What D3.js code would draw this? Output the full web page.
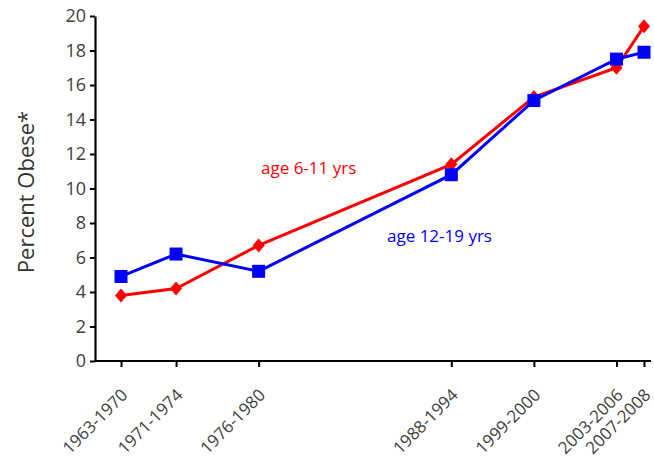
<!DOCTYPE html>
<html>
<head>
<meta charset="utf-8">
<script src="https://cdn.jsdelivr.net/npm/d3@7"></script>
<style>
  body { margin: 0; background: #fff; }
  text { font-family: "Open Sans", "Liberation Sans", sans-serif; }
</style>
</head>
<body>
<div id="chart"></div>
<script>
// Survey periods, and the end year used to place them on the x axis
const periods = ["1963-1970", "1971-1974", "1976-1980", "1988-1994", "1999-2000", "2003-2006", "2007-2008"];
const endYears = [1970, 1974, 1980, 1994, 2000, 2006, 2008];
const age6to11 = [3.8, 4.2, 6.7, 11.4, 15.3, 17.0, 19.4];
const age12to19 = [4.9, 6.2, 5.2, 10.8, 15.1, 17.5, 17.9];
const yTicks = [0, 2, 4, 6, 8, 10, 12, 14, 16, 18, 20];

const W = 654, H = 464;
const svg = d3.select("#chart").append("svg")
    .attr("width", W).attr("height", H);

const x = d3.scaleLinear().domain([1970, 2008]).range([121, 644]);
const y = d3.scaleLinear().domain([0, 20]).range([361, 16]);
const axisLeftX = 95, axisRightX = 651;

// y axis
const yAxis = svg.append("g")
    .attr("transform", "translate(" + axisLeftX + ",0)")
    .call(d3.axisLeft(y).tickValues(yTicks).tickSize(5).tickSizeOuter(0).tickPadding(4));
yAxis.select(".domain").attr("stroke", "#000").attr("stroke-width", 2.2);
yAxis.selectAll(".tick line").attr("stroke", "#000").attr("stroke-width", 2);
yAxis.selectAll(".tick text").attr("fill", "#404040").style("font-size", "18px");

// x axis
const xAxis = svg.append("g")
    .attr("transform", "translate(0," + y(0) + ")");
xAxis.append("line")
    .attr("x1", axisLeftX).attr("x2", axisRightX)
    .attr("stroke", "#000").attr("stroke-width", 2.2);
xAxis.call(d3.axisBottom(x).tickValues(endYears).tickSize(6).tickSizeOuter(0)
        .tickFormat((d, i) => periods[i]))
    .select(".domain").remove();
xAxis.selectAll(".tick line").attr("stroke", "#000").attr("stroke-width", 2);
xAxis.selectAll(".tick text")
    .attr("fill", "#404040")
    .style("font-size", "17px")
    .attr("text-anchor", "end")
    .attr("x", 0).attr("y", 0)
    .attr("dy", "0.35em")
    .attr("transform", "translate(3,31) rotate(-45)");

// y axis label
svg.append("text")
    .attr("transform", "translate(34,192) rotate(-90)")
    .attr("text-anchor", "middle")
    .attr("fill", "#333")
    .style("font-size", "22px")
    .text("Percent Obese*");

const line = d3.line()
    .x((d, i) => x(endYears[i]))
    .y(d => y(d));

// red series: age 6-11
svg.append("path")
    .datum(age6to11)
    .attr("fill", "none")
    .attr("stroke", "#ff0000")
    .attr("stroke-width", 3)
    .attr("d", line);

svg.selectAll(".diamond")
    .data(age6to11)
    .enter().append("path")
    .attr("class", "diamond")
    .attr("fill", "#ff0000")
    .attr("transform", (d, i) => "translate(" + x(endYears[i]) + "," + y(d) + ")")
    .attr("d", "M0,-7L6,0L0,7L-6,0Z");

// blue series: age 12-19
svg.append("path")
    .datum(age12to19)
    .attr("fill", "none")
    .attr("stroke", "#0000ff")
    .attr("stroke-width", 3)
    .attr("d", line);

svg.selectAll(".square")
    .data(age12to19)
    .enter().append("rect")
    .attr("class", "square")
    .attr("fill", "#0000ff")
    .attr("x", (d, i) => x(endYears[i]) - 6.5)
    .attr("y", d => y(d) - 6.5)
    .attr("width", 13).attr("height", 13);

// series labels
svg.append("text")
    .attr("x", 261).attr("y", 174)
    .attr("fill", "#ff0000")
    .style("font-size", "17px")
    .text("age 6-11 yrs");

svg.append("text")
    .attr("x", 387).attr("y", 242)
    .attr("fill", "#0000ff")
    .style("font-size", "17px")
    .text("age 12-19 yrs");
</script>
</body>
</html>
